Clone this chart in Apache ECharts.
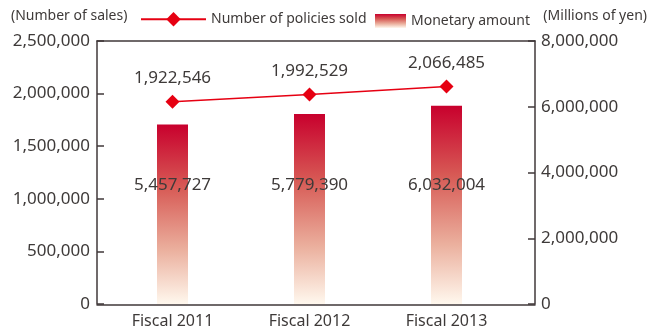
<!DOCTYPE html>
<html>
<head>
<meta charset="utf-8">
<script src="https://cdn.jsdelivr.net/npm/echarts@6/dist/echarts.min.js"></script>
<style>
  html, body { margin: 0; padding: 0; background: #ffffff; }
  #chart { width: 649px; height: 329px; }
</style>
</head>
<body>
<div id="chart"></div>
<script>
// Sales results by fiscal year
const categories = ['Fiscal 2011', 'Fiscal 2012', 'Fiscal 2013'];
const policiesSold = [1922546, 1992529, 2066485];      // number of sales
const monetaryAmount = [5457727, 5779390, 6032004];    // millions of yen

const salesAxis = { min: 0, max: 2500000, interval: 500000 };
const yenAxis = { min: 0, max: 8000000, interval: 2000000 };

const TEXT = '#3e3a39';
const AXIS = '#40393a';
const RED = '#e60012';
const FONT = '"Noto Sans", sans-serif';

const fmt = v => Number(v).toLocaleString('en-US');

const barGradient = new echarts.graphic.LinearGradient(0, 0, 0, 1, [
  { offset: 0, color: '#c8002d' },
  { offset: 0.35, color: '#d75a55' },
  { offset: 0.7, color: '#ebb09e' },
  { offset: 1, color: '#fff8ee' }
]);

const chart = echarts.init(document.getElementById('chart'), null, { renderer: 'canvas' });

chart.setOption({
  animation: false,
  textStyle: { fontFamily: FONT, color: TEXT },
  title: [
    { text: '(Number of sales)', left: 11, top: 9, padding: 0,
      textStyle: { fontSize: 14, fontWeight: 'normal', color: TEXT, fontFamily: FONT } },
    { text: '(Millions of yen)', right: 2, top: 9, padding: 0,
      textStyle: { fontSize: 14, fontWeight: 'normal', color: TEXT, fontFamily: FONT } }
  ],
  legend: [
    { data: ['Number of policies sold'], left: 140, top: 12, padding: 0,
      itemWidth: 65, itemHeight: 18,
      textStyle: { fontSize: 14, color: TEXT, fontFamily: FONT } },
    { data: [{ name: 'Monetary amount', icon: 'rect' }], left: 375, top: 14, padding: 0,
      itemWidth: 31, itemHeight: 14,
      textStyle: { fontSize: 14, color: TEXT, fontFamily: FONT } }
  ],
  grid: [
    // outer frame (top and bottom lines)
    { left: 97, right: 114, top: 41, bottom: 24 },
    // plotting area for the bars and line
    { left: 104, right: 134, top: 41, bottom: 24 }
  ],
  xAxis: [
    { gridIndex: 0, type: 'value', position: 'bottom', min: 0, max: 1,
      axisLine: { show: true, lineStyle: { color: AXIS, width: 1.5 } },
      axisTick: { show: false }, axisLabel: { show: false }, splitLine: { show: false } },
    { gridIndex: 0, type: 'value', position: 'top', min: 0, max: 1,
      axisLine: { show: true, lineStyle: { color: AXIS, width: 1.5 } },
      axisTick: { show: false }, axisLabel: { show: false }, splitLine: { show: false } },
    { gridIndex: 1, type: 'category', data: categories, position: 'bottom',
      axisLine: { show: false }, axisTick: { show: false },
      axisLabel: { color: TEXT, fontSize: 16, margin: 9, fontFamily: FONT } }
  ],
  yAxis: [
    { gridIndex: 1, type: 'value', position: 'left', offset: 7,
      min: salesAxis.min, max: salesAxis.max, interval: salesAxis.interval,
      axisLine: { show: true, lineStyle: { color: AXIS, width: 1.5 } },
      axisTick: { show: true, inside: true, length: 7, lineStyle: { color: AXIS, width: 1.5 } },
      axisLabel: { color: TEXT, fontSize: 17, margin: 7, formatter: fmt, fontFamily: FONT },
      splitLine: { show: false } },
    { gridIndex: 1, type: 'value', position: 'right', offset: 20,
      min: yenAxis.min, max: yenAxis.max, interval: yenAxis.interval,
      axisLine: { show: true, lineStyle: { color: AXIS, width: 1.5 } },
      axisTick: { show: true, inside: true, length: 7, lineStyle: { color: AXIS, width: 1.5 } },
      axisLabel: { color: TEXT, fontSize: 17, margin: 6, formatter: fmt, fontFamily: FONT },
      splitLine: { show: false } },
    { gridIndex: 0, type: 'value', show: false, min: 0, max: 1 }
  ],
  series: [
    {
      name: 'Monetary amount',
      type: 'bar',
      xAxisIndex: 2,
      yAxisIndex: 1,
      data: monetaryAmount,
      barWidth: 31,
      itemStyle: { color: barGradient },
      label: {
        show: true,
        position: 'insideBottom',
        distance: 110,
        color: TEXT,
        fontSize: 17,
        fontFamily: FONT,
        formatter: p => fmt(p.value)
      },
      z: 2
    },
    {
      name: 'Number of policies sold',
      type: 'line',
      xAxisIndex: 2,
      yAxisIndex: 0,
      data: policiesSold,
      symbol: 'diamond',
      symbolSize: 14,
      lineStyle: { color: RED, width: 1.5 },
      itemStyle: { color: RED },
      label: {
        show: true,
        position: 'top',
        distance: 8,
        color: TEXT,
        fontSize: 17,
        fontFamily: FONT,
        formatter: p => fmt(p.value)
      },
      z: 3
    }
  ]
});
</script>
</body>
</html>
